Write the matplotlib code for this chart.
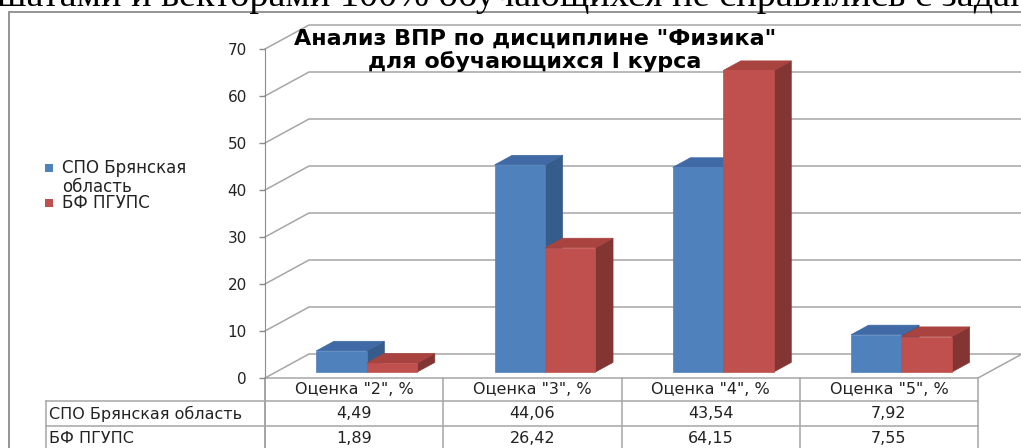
import matplotlib
matplotlib.use("Agg")
import matplotlib.pyplot as plt
from matplotlib.patches import Polygon, Rectangle
from matplotlib.transforms import blended_transform_factory

# --- data ---
categories = ['Оценка "2", %', 'Оценка "3", %', 'Оценка "4", %', 'Оценка "5", %']
series_names = ["СПО Брянская область", "БФ ПГУПС"]
legend_labels = ["СПО Брянская\nобласть", "БФ ПГУПС"]
spo_values = [4.49, 44.06, 43.54, 7.92]
bf_values = [1.89, 26.42, 64.15, 7.55]
y_ticks = [0, 10, 20, 30, 40, 50, 60, 70]
title = 'Анализ ВПР по дисциплине "Физика"\nдля обучающихся I курса'
page_text = "шатами и векторами 100% обучающихся не справились с заданием"

# --- layout (pixels) ---
W, H = 1021, 448
AX_L, AX_R, AX_TOP, AX_BOT = 265, 978, 49, 378
DEPTH_DX, DEPTH_DY = 44, 24           # floor depth in px
BAR_D0, BAR_D1 = 0.25, 0.65           # bar depth as fraction of floor depth
BAR_OFF, BAR_W = 0.226, 0.283         # in category units

blue = {"front": "#4f81bd", "top": "#3f6aa6", "side": "#365c8c"}
red = {"front": "#c0504d", "top": "#a8433f", "side": "#823533"}
grid_c = "#a6a6a6"
txt_c = "#222222"


def fx(px):
    return px / W


def fy(py):
    return 1 - py / H


fig = plt.figure(figsize=(W / 100, H / 100), dpi=100)
fig.patch.set_facecolor("white")

# text of the page above the chart, cut by the screenshot
fig.text(fx(-3), fy(6), page_text, family=["Liberation Serif", "DejaVu Serif"],
         fontsize=27.5, va="baseline", ha="left")

# chart frame
fig.patches.append(Rectangle((fx(9), fy(470)), fx(1100), fy(12) - fy(470),
                             transform=fig.transFigure, fill=False,
                             edgecolor="#8c8c8c", linewidth=1.3))

ax = fig.add_axes([fx(AX_L), fy(AX_BOT), fx(AX_R - AX_L), fy(AX_TOP) - fy(AX_BOT)])
ax.set_xlim(0, len(categories))
ax.set_ylim(0, 70)
ax.patch.set_alpha(0)

px_x = (AX_R - AX_L) / len(categories)
px_y = (AX_BOT - AX_TOP) / 70
DX = DEPTH_DX / px_x
DY = DEPTH_DY / px_y
n = len(categories)

# back wall and side wall gridlines
for v in y_ticks[1:]:
    ax.plot([0, DX, n + DX], [v, v + DY, v + DY], color=grid_c, lw=1.1,
            clip_on=False, zorder=1)
# floor
ax.add_patch(Polygon([(0, 0), (DX, DY), (n + DX, DY), (n, 0)], closed=True,
                     facecolor="white", edgecolor=grid_c, lw=1.1,
                     clip_on=False, zorder=1))


def bar3d(x0, width, h, cols):
    d0x, d0y = DX * BAR_D0, DY * BAR_D0
    ddx, ddy = DX * (BAR_D1 - BAR_D0), DY * (BAR_D1 - BAR_D0)
    xa, xb = x0 + d0x, x0 + width + d0x
    yb, yt = d0y, d0y + h
    front = [(xa, yb), (xb, yb), (xb, yt), (xa, yt)]
    top = [(xa, yt), (xb, yt), (xb + ddx, yt + ddy), (xa + ddx, yt + ddy)]
    side = [(xb, yb), (xb + ddx, yb + ddy), (xb + ddx, yt + ddy), (xb, yt)]
    for pts, key in ((side, "side"), (top, "top"), (front, "front")):
        ax.add_patch(Polygon(pts, closed=True, facecolor=cols[key],
                             edgecolor=cols[key], lw=0.5, clip_on=False, zorder=3))


for i in range(n):
    bar3d(i + BAR_OFF, BAR_W, spo_values[i], blue)
    bar3d(i + BAR_OFF + BAR_W, BAR_W, bf_values[i], red)

# y axis
for s in ["top", "right", "bottom"]:
    ax.spines[s].set_visible(False)
ax.spines["left"].set_color("#8c8c8c")
ax.set_xticks([])
ax.set_yticks(y_ticks)
ax.tick_params(axis="y", length=4, width=1, color="#8c8c8c", pad=9,
               labelsize=11, labelcolor=txt_c)

# title
fig.text(fx(535), fy(50), title, ha="center", va="center", fontsize=16,
         fontweight="bold", linespacing=1.15)

# legend
leg_y = [168, 203]
for lab, col, yy in zip(legend_labels, [blue["front"], red["front"]], leg_y):
    fig.patches.append(Rectangle((fx(45), fy(yy + 4)), fx(8), fy(yy - 4) - fy(yy + 4),
                                 transform=fig.transFigure, facecolor=col,
                                 edgecolor="none"))
    fig.text(fx(62), fy(yy - 9), lab, ha="left", va="top", fontsize=12,
             linespacing=1.05, color=txt_c)

# data table under the axis
tr = blended_transform_factory(ax.transData, fig.transFigure)
row_y = [AX_BOT, 401, 426, 451]
tab_left = 46
line_kw = dict(color=grid_c, lw=1.1)
fig.add_artist(plt.Line2D([fx(tab_left), fx(AX_R)], [fy(row_y[1])] * 2, **line_kw))
fig.add_artist(plt.Line2D([fx(tab_left), fx(AX_R)], [fy(row_y[2])] * 2, **line_kw))
fig.add_artist(plt.Line2D([fx(tab_left)] * 2, [fy(row_y[1]), fy(row_y[3])], **line_kw))
for i in range(n + 1):
    ax.plot([i, i], [fy(row_y[0]), fy(row_y[3])], transform=tr, clip_on=False,
            color="#8c8c8c" if i == 0 else grid_c, lw=1.1)

for i, cat in enumerate(categories):
    ax.text(i + 0.5, fy((row_y[0] + row_y[1]) / 2), cat, transform=tr,
            ha="center", va="center", fontsize=11.5, color=txt_c)
for r, (name, vals) in enumerate(zip(series_names, [spo_values, bf_values])):
    ymid = fy((row_y[r + 1] + row_y[r + 2]) / 2)
    fig.text(fx(tab_left + 3), ymid, name, ha="left", va="center",
             fontsize=11.5, color=txt_c)
    for i, v in enumerate(vals):
        ax.text(i + 0.5, ymid, f"{v:.2f}".replace(".", ","), transform=tr,
                ha="center", va="center", fontsize=11.5, color=txt_c)

fig.savefig("out.png", dpi=100)
